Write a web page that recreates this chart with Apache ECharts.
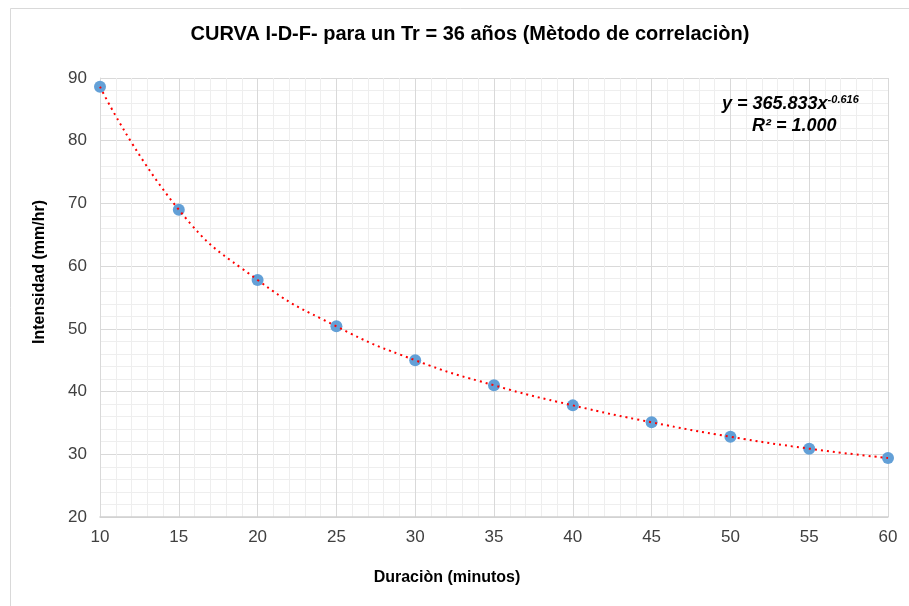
<!DOCTYPE html>
<html>
<head>
<meta charset="utf-8">
<script src="https://cdn.jsdelivr.net/npm/echarts@6/dist/echarts.min.js"></script>
<style>
  html, body { margin: 0; padding: 0; background: #fff; }
  #chart { width: 909px; height: 606px; }
</style>
</head>
<body>
<div id="chart"></div>
<script>
// Curva I-D-F, Tr = 36 años
var duracion = [10, 15, 20, 25, 30, 35, 40, 45, 50, 55, 60]
var intensidad = [88.6, 69.0, 57.8, 50.4, 45.0, 41.0, 37.8, 35.1, 32.8, 30.9, 29.4]
var xTicks = [10, 15, 20, 25, 30, 35, 40, 45, 50, 55, 60]
var yTicks = [20, 30, 40, 50, 60, 70, 80, 90]

var puntos = duracion.map(function (d, i) { return [d, intensidad[i]] })

var chart = echarts.init(document.getElementById('chart'))
var font = 'Liberation Sans, Arial, sans-serif'

option = {
  backgroundColor: '#fff',
  animation: false,
  title: {
    text: 'CURVA I-D-F- para un Tr = 36 años (Mètodo de correlaciòn)',
    left: 465,
    textAlign: 'center',
    top: 19,
    textStyle: { fontFamily: font, fontSize: 20, fontWeight: 'bold', color: '#000' },
  },
  grid: { left: 100, right: 21, top: 78, bottom: 89 },
  xAxis: {
    type: 'value',
    min: xTicks[0],
    max: xTicks[xTicks.length - 1],
    interval: 5,
    axisLine: { show: true, lineStyle: { color: '#d0d0d0', width: 1.5 } },
    axisTick: { show: false },
    axisLabel: { fontFamily: font, fontSize: 17, color: '#404040', margin: 12 },
    splitLine: { show: true, lineStyle: { color: '#d9d9d9' } },
    minorTick: { show: false, splitNumber: 5 },
    minorSplitLine: { show: true, lineStyle: { color: '#eeeeee' } },
  },
  yAxis: {
    type: 'value',
    min: yTicks[0],
    max: yTicks[yTicks.length - 1],
    interval: 10,
    axisLine: { show: true, lineStyle: { color: '#d9d9d9' } },
    axisTick: { show: false },
    axisLabel: { fontFamily: font, fontSize: 17, color: '#404040', margin: 13 },
    splitLine: { show: true, lineStyle: { color: '#d9d9d9' } },
    minorTick: { show: false, splitNumber: 5 },
    minorSplitLine: { show: true, lineStyle: { color: '#eeeeee' } },
  },
  graphic: [
    {
      type: 'rect',
      silent: true,
      shape: { x: 10.5, y: 8.5, width: 1000, height: 1000 },
      style: { fill: 'none', stroke: '#d9d9d9', lineWidth: 1 },
      z: -1,
    },
    {
      type: 'text',
      x: 447,
      y: 578,
      z: 100,
      style: {
        text: 'Duraciòn (minutos)',
        align: 'center',
        verticalAlign: 'middle',
        fontFamily: font, fontSize: 16, fontWeight: 'bold', fill: '#000',
      },
    },
    {
      type: 'text',
      x: 40,
      y: 272,
      rotation: Math.PI / 2,
      z: 100,
      style: {
        text: 'Intensidad (mm/hr)',
        align: 'center',
        verticalAlign: 'middle',
        fontFamily: font, fontSize: 16, fontWeight: 'bold', fill: '#000',
      },
    },
    {
      type: 'text',
      x: 722,
      y: 94,
      z: 100,
      style: {
        text: '{b|y = 365.833x}{s|-0.616}',
        rich: {
          b: { fontFamily: font, fontSize: 18, fontWeight: 'bold', fontStyle: 'italic', fill: '#000' },
          s: { fontFamily: font, fontSize: 11, fontWeight: 'bold', fontStyle: 'italic', fill: '#000', verticalAlign: 'top', padding: [0, 0, 9, 0] },
        },
      },
    },
    {
      type: 'text',
      x: 752,
      y: 117,
      z: 100,
      style: {
        text: 'R² = 1.000',
        fontFamily: font, fontSize: 18, fontWeight: 'bold', fontStyle: 'italic', fill: '#000',
      },
    },
  ],
  series: [
    {
      name: 'Tendencia',
      type: 'line',
      data: puntos,
      smooth: 0.5,
      showSymbol: false,
      lineStyle: { color: '#ff0000', width: 2, type: [2, 4] },
      z: 3,
    },
    {
      name: 'Intensidad',
      type: 'scatter',
      data: puntos,
      symbolSize: 12,
      itemStyle: { color: '#5b9bd5', opacity: 0.95 },
      z: 2,
    },
  ],
}
chart.setOption(option)
</script>
</body>
</html>
